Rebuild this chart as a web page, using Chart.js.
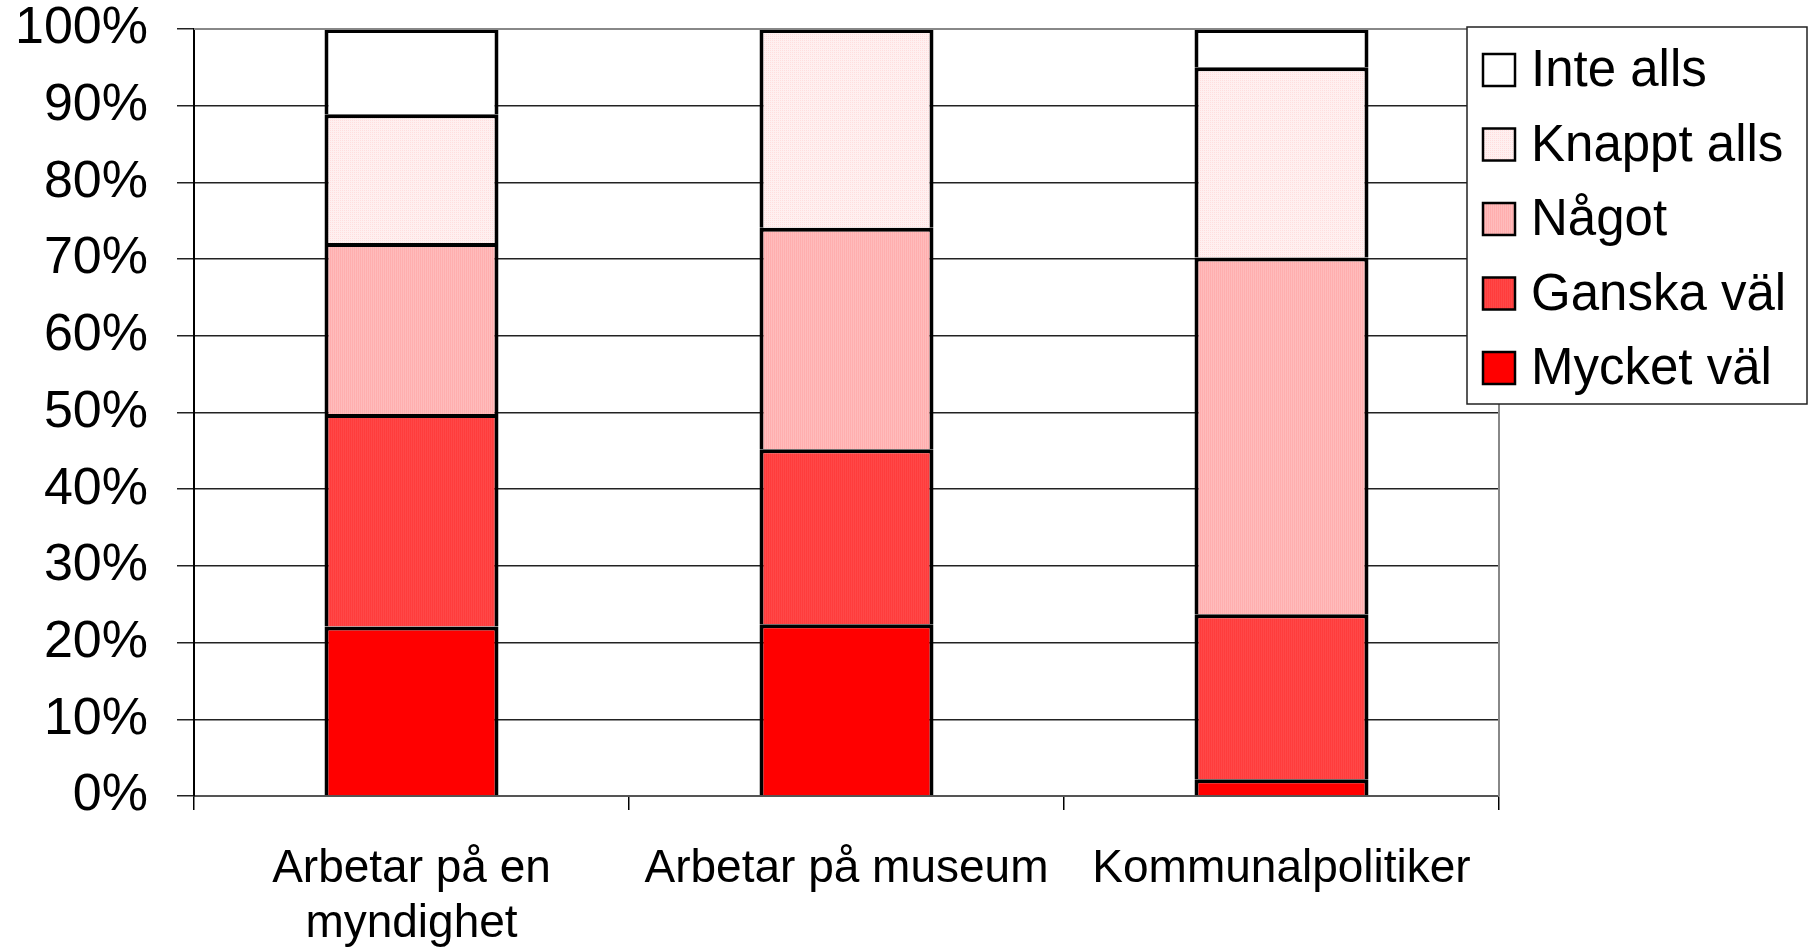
<!DOCTYPE html>
<html>
<head>
<meta charset="utf-8">
<script src="https://cdn.jsdelivr.net/npm/chart.js@4/dist/chart.umd.min.js"></script>
<style>
  html, body { margin: 0; padding: 0; background: #fff; }
  #wrap { width: 1811px; height: 952px; }
</style>
</head>
<body>
<div id="wrap"><canvas id="chart" width="1811" height="952"></canvas></div>
<script>
'use strict';

// data (percent of answers)
let categories = [['Arbetar på en', 'myndighet'], 'Arbetar på museum', 'Kommunalpolitiker'];
let seriesNames = ['Mycket väl', 'Ganska väl', 'Något', 'Knappt alls', 'Inte alls'];
let mycketVal = [22.1, 22.4, 2.2];
let ganskaVal = [27.7, 22.8, 21.5];
let nagot = [22.3, 28.9, 46.5];
let knapptAlls = [16.8, 25.9, 24.8];
let inteAlls = [11.1, 0, 5.0];
let yTicks = [0, 10, 20, 30, 40, 50, 60, 70, 80, 90, 100];

let FONT = '"Liberation Sans", Arial, sans-serif';

function makePattern(c1, c2, dots){
    let p = document.createElement('canvas');
    p.width = 2;
    p.height = 2;
    let g = p.getContext('2d');
    g.fillStyle = c1;
    g.fillRect(0, 0, 2, 2);
    g.fillStyle = c2;
    if (dots) {
        g.fillRect(0, 0, 1, 1);
    } else {
        g.fillRect(0, 0, 1, 2);
    }
    return document.getElementById('chart').getContext('2d').createPattern(p, 'repeat');
}

let fills = [
    '#ff0000',
    makePattern('#ff4848', '#ff3c3c', false),
    makePattern('#ffbcbc', '#ffaeae', false),
    makePattern('#fff0f0', '#ffdede', true),
    '#ffffff'
];
let seriesValues = [mycketVal, ganskaVal, nagot, knapptAlls, inteAlls];

let datasets = [];
for (let i = 0; i < seriesNames.length; i++) {
    datasets.push({
        label: seriesNames[i],
        data: seriesValues[i],
        backgroundColor: fills[i],
        borderColor: '#000',
        borderWidth: { top: 4, left: 4, right: 4, bottom: 0 },
        borderSkipped: false,
        barPercentage: 0.4,
        categoryPercentage: 1
    });
}

// frame on top/right of the plot and the boxed legend
let framePlugin = {
    id: 'frame',
    afterDraw(chart){
        let ctx = chart.ctx;
        let a = chart.chartArea;
        ctx.save();
        ctx.strokeStyle = '#888';
        ctx.lineWidth = 2;
        ctx.beginPath();
        ctx.moveTo(a.left, a.top);
        ctx.lineTo(a.right, a.top);
        ctx.lineTo(a.right, a.bottom);
        ctx.stroke();

        // legend box
        let lx = 1467, ly = 27, lw = 340, lh = 377;
        ctx.fillStyle = '#fff';
        ctx.fillRect(lx, ly, lw, lh);
        ctx.strokeStyle = '#222';
        ctx.lineWidth = 1.5;
        ctx.strokeRect(lx, ly, lw, lh);
        ctx.font = '51px ' + FONT;
        ctx.textBaseline = 'middle';
        ctx.textAlign = 'left';
        let ds = chart.data.datasets;
        for (let i = 0; i < ds.length; i++) {
            let d = ds[ds.length - 1 - i];
            let cy = 70 + i * 74.5;
            ctx.fillStyle = d.backgroundColor;
            ctx.fillRect(1483, cy - 16, 32, 32);
            ctx.strokeStyle = '#000';
            ctx.lineWidth = 2.5;
            ctx.strokeRect(1483, cy - 16, 32, 32);
            ctx.fillStyle = '#000';
            ctx.fillText(d.label, 1531, cy + 2);
        }
        ctx.restore();
    }
};

let ctx = document.getElementById('chart').getContext('2d');
let chart = new Chart(ctx, {
    type: 'bar',
    data: {
        labels: categories,
        datasets: datasets
    },
    options: {
        responsive: false,
        animation: false,
        layout: {
            padding: { top: 29, right: 312, bottom: 0, left: 0 }
        },
        plugins: {
            legend: { display: false },
            tooltip: { enabled: false }
        },
        scales: {
            x: {
                stacked: true,
                grid: {
                    drawOnChartArea: false,
                    drawTicks: true,
                    tickLength: 14,
                    color: '#000',
                    lineWidth: 1.5
                },
                border: { color: '#555', width: 2 },
                ticks: {
                    color: '#000',
                    padding: 32,
                    maxRotation: 0,
                    autoSkip: false,
                    font: { family: FONT, size: 46, lineHeight: 1.2 }
                },
                afterFit(scale){
                    scale.height = 156;
                }
            },
            y: {
                stacked: true,
                min: 0,
                max: 100,
                afterBuildTicks(scale){
                    scale.ticks = yTicks.map(v => ({ value: v }));
                },
                grid: {
                    color: '#222',
                    lineWidth: 1.5,
                    tickLength: 17
                },
                border: { color: '#000', width: 2 },
                ticks: {
                    color: '#000',
                    padding: 29,
                    font: { family: FONT, size: 52, lineHeight: 1 },
                    callback: v => v + '%'
                },
                afterFit(scale){
                    scale.width = 194;
                    scale.paddingTop = 0;
                    scale.paddingBottom = 0;
                }
            }
        }
    },
    plugins: [framePlugin]
});
</script>
</body>
</html>
